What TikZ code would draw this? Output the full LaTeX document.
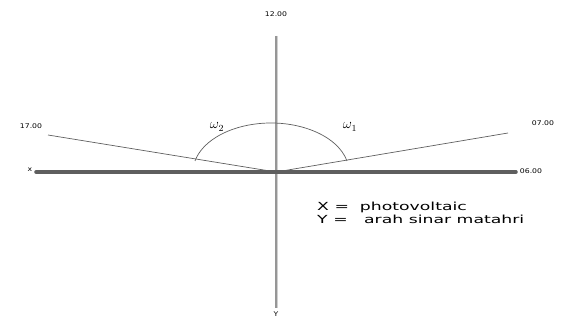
\documentclass[tikz,border=0pt]{standalone}
\usepackage{fontspec}
\setmainfont{DejaVu Sans}
\usetikzlibrary{positioning}
\definecolor{linegray}{RGB}{95,95,95}
\definecolor{axisgray}{RGB}{150,150,150}

\tikzset{
  timelabel/.style={font=\fontsize{5.5}{6}\selectfont\addfontfeature{FakeStretch=1.2}, inner sep=1pt},
  anglelabel/.style={font=\large, inner sep=0pt},
  legendtext/.style={font=\fontsize{9.5}{11}\selectfont\addfontfeature{FakeStretch=1.55},
    align=left, inner sep=0pt}
}

\begin{document}
\begin{tikzpicture}[x=0.03cm,y=-0.03cm]
  \useasboundingbox (0,0) rectangle (572,320);
  % centre and line ends
  \coordinate (o) at (276,172);
  \coordinate (arcc) at (271,172);
  \coordinate (top) at (276,36);
  \coordinate (bot) at (276,308);
  \coordinate (west) at (36,172);
  \coordinate (east) at (516,172);
  \coordinate (eve) at (48,135);
  \coordinate (morn) at (508,133);

  \draw[axisgray!45,line width=1.6pt] ([xshift=1.2pt]top) -- ([xshift=1.2pt]bot);
  \draw[axisgray,line width=1.3pt] (top) -- (bot);
  \draw[linegray,line width=3pt,line cap=round] (west) -- (east);
  \draw[linegray,line width=0.6pt] (eve) -- (o) -- (morn);
  \draw[linegray,line width=0.6pt] (arcc) ++(-13:78 and 49)
    arc[start angle=-13,end angle=-167,x radius=78,y radius=49];

  \node[timelabel] (t12) at (276,14) {12.00};
  \node[timelabel] (t17) at (31,126) {17.00};
  \node[timelabel] (t07) at (543,123) {07.00};
  \node[timelabel] (t06) at (531,171) {06.00};
  \node[timelabel] (lx) at (30,170) {x};
  \node[timelabel, anchor=north] (ly) at (276,310.5) {Y};

  \node[anglelabel] (w2) at (217,127) {$\omega_2$};
  \node[anglelabel] (w1) at (350,127) {$\omega_1$};

  \node[legendtext, anchor=north west] (leg) at (317,202)
    {X =\ \ photovoltaic\\Y =\ \ \ arah sinar matahri};
\end{tikzpicture}
\end{document}
